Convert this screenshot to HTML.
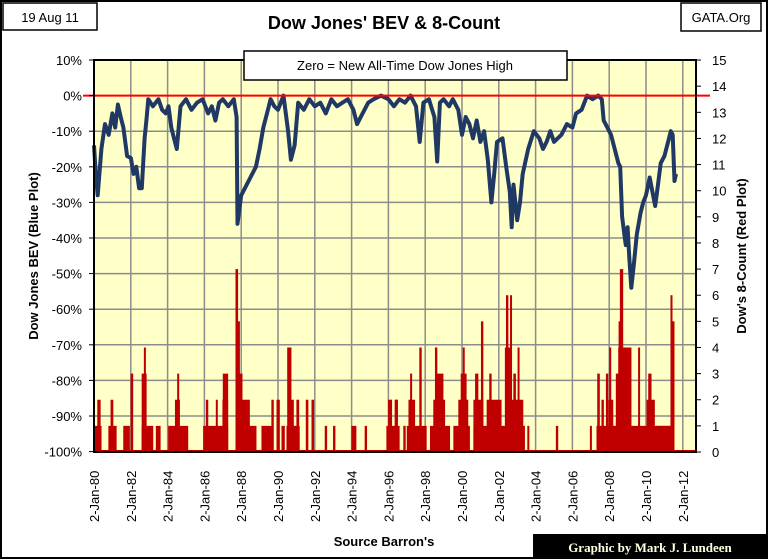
<!DOCTYPE html>
<html><head><meta charset="utf-8"><style>
html,body{margin:0;padding:0;background:#fff;}
svg{display:block;font-family:"Liberation Sans",sans-serif;}
</style></head><body>
<svg id="chart" width="768" height="559" viewBox="0 0 768 559">
<rect x="1" y="1" width="766" height="557" fill="#fff" stroke="#000" stroke-width="2"/>
<rect x="3" y="3" width="94" height="27" fill="#fff" stroke="#000" stroke-width="1.5"/>
<text x="50" y="22" font-size="13" text-anchor="middle">19 Aug 11</text>
<rect x="681" y="3" width="80" height="28" fill="#fff" stroke="#000" stroke-width="1.5"/>
<text x="721" y="22" font-size="13" text-anchor="middle">GATA.Org</text>
<text x="384" y="29" font-size="18" font-weight="bold" text-anchor="middle">Dow Jones' BEV &amp; 8-Count</text>
<rect x="94" y="60" width="602" height="392" fill="#ffffc8"/>
<g id="grid"></g>
<g id="bars"></g>
<path id="bevline" fill="none" stroke="#1f3864" stroke-width="4" stroke-linejoin="round"/>
<line x1="83" y1="95.6" x2="710" y2="95.6" stroke="#ff0000" stroke-width="2"/>
<rect x="94" y="60" width="602" height="392" fill="none" stroke="#000" stroke-width="2"/>
<g id="axes"></g>
<rect x="244" y="51" width="323" height="29" fill="#fff" stroke="#000" stroke-width="1.5"/>
<text x="405" y="70" font-size="13" text-anchor="middle">Zero = New All-Time Dow Jones High</text>
<text transform="translate(38,256) rotate(-90)" font-size="13" font-weight="bold" text-anchor="middle">Dow Jones BEV (Blue Plot)</text>
<text transform="translate(746,256) rotate(-90)" font-size="13" font-weight="bold" text-anchor="middle">Dow's 8-Count (Red Plot)</text>
<text x="384" y="546" font-size="13" font-weight="bold" text-anchor="middle">Source Barron's</text>
<rect x="533" y="534" width="235" height="25" fill="#000"/>
<text x="650" y="552" font-size="13" font-weight="bold" fill="#ffffe0" text-anchor="middle" font-family="Liberation Serif, serif">Graphic by Mark J. Lundeen</text>
</svg>
<script>
const bevDates=[1980.0,1980.1,1980.2,1980.4,1980.6,1980.8,1981.0,1981.15,1981.3,1981.45,1981.6,1981.8,1982.0,1982.15,1982.3,1982.45,1982.6,1982.75,1982.85,1982.95,1983.2,1983.5,1983.7,1983.9,1984.05,1984.2,1984.35,1984.5,1984.7,1985.0,1985.3,1985.6,1985.9,1986.2,1986.4,1986.6,1986.8,1987.0,1987.3,1987.6,1987.75,1987.8,1988.0,1988.2,1988.5,1988.8,1989.0,1989.2,1989.4,1989.6,1989.8,1990.0,1990.3,1990.55,1990.7,1990.9,1991.1,1991.4,1991.7,1992.0,1992.3,1992.6,1992.9,1993.2,1993.5,1993.8,1994.1,1994.3,1994.6,1994.9,1995.2,1995.6,1996.0,1996.3,1996.6,1996.9,1997.2,1997.5,1997.7,1997.9,1998.2,1998.5,1998.65,1998.8,1999.0,1999.3,1999.5,1999.8,2000.0,2000.2,2000.4,2000.6,2000.8,2001.0,2001.2,2001.4,2001.6,2001.75,2001.9,2002.2,2002.4,2002.6,2002.7,2002.8,2003.0,2003.15,2003.3,2003.6,2003.9,2004.2,2004.4,2004.6,2004.8,2005.0,2005.2,2005.4,2005.7,2006.0,2006.2,2006.5,2006.8,2007.1,2007.4,2007.6,2007.7,2007.9,2008.1,2008.3,2008.5,2008.6,2008.7,2008.85,2008.9,2009.0,2009.1,2009.2,2009.35,2009.5,2009.7,2009.85,2010.0,2010.2,2010.35,2010.5,2010.65,2010.8,2011.0,2011.2,2011.35,2011.45,2011.55,2011.63];
const bevValues=[-14,-22,-28,-15,-8,-11,-5,-9,-2.5,-6,-9,-17,-17.5,-22,-20,-26,-26,-12,-7,-1,-3,-1,-4,-5,-3,-9,-12,-15,-3,-1,-4,-2,-1,-5,-3,-7,-2,-1,-3,-1,-6,-36,-28,-26,-23,-20,-15,-9,-5,-1,-3,-4,0,-10,-18,-14,-2,-4,-1,-3,-2,-5,-1,-3,-2,-1,-4,-8,-5,-2,-1,0,-1,-3,-1,-2,0,-3,-13,-2,-1,-6,-18.5,-2,-1,-3,-1,-4,-11,-6,-8,-12,-7,-13,-10,-18,-30,-22,-13,-12,-20,-27,-37,-25,-35,-30,-22,-15,-10,-12,-15,-13,-10,-13,-12,-11,-8,-9,-5,-4,0,-1,0,-1,-7,-9,-11,-15,-19,-20,-34,-40,-42,-37,-46,-54,-47,-39,-33,-30,-28,-23,-27,-31,-25,-19,-17,-13,-10,-11,-24,-22];
const countStart=[1980.0,1980.18,1980.78,1980.9,1981.59,1981.99,1982.59,1982.59,1982.71,1983.36,1984.03,1984.4,1984.52,1985.93,1986.08,1986.62,1986.98,1987.0,1987.69,1987.8,1987.74,1987.74,1988.07,1989.1,1989.64,1989.92,1990.19,1990.46,1990.5,1990.64,1991.0,1991.51,1991.82,1992.54,1992.99,1993.99,1994.71,1995.89,1995.98,1996.34,1996.09,1996.36,1996.81,1997.0,1997.09,1997.18,1997.68,1998.26,1998.44,1998.62,1998.53,1999.53,1999.8,1999.93,2000.04,2000.62,2000.62,2000.71,2001.03,2001.34,2001.48,2002.7,2002.33,2002.39,2002.61,2002.79,2003.02,2003.55,2005.1,2006.95,2007.31,2007.35,2007.58,2007.82,2007.95,2008.0,2008.36,2008.49,2008.51,2008.58,2009.57,2010.03,2010.12,2010.57,2011.33,2011.44];
const countEnd=[1980.41,1980.36,1981.23,1981.05,1981.95,1982.13,1983.22,1982.86,1982.82,1983.62,1985.12,1984.67,1984.63,1987.29,1986.21,1986.71,1987.29,1987.29,1987.83,1987.93,1988.83,1988.07,1988.47,1989.74,1989.77,1990.1,1990.37,1991.18,1990.73,1990.86,1991.15,1991.65,1991.96,1992.67,1993.12,1994.26,1994.84,1996.61,1996.16,1996.52,1996.18,1996.49,1996.94,1998.08,1997.45,1997.27,1997.81,1999.35,1999.08,1998.99,1998.66,2000.43,2000.34,2000.25,2000.14,2003.42,2001.16,2000.89,2001.16,2002.15,2001.61,2003.33,2002.64,2002.52,2002.71,2002.93,2003.11,2003.66,2005.23,2007.06,2011.44,2007.49,2007.71,2007.95,2008.22,2008.11,2008.54,2009.21,2008.58,2008.76,2009.67,2010.48,2010.3,2011.44,2011.44,2011.51];
const countValues=[1,2,1,2,1,3,1,3,4,1,1,2,3,1,2,2,2,3,7,5,1,3,2,1,2,2,1,1,4,2,2,2,2,1,1,1,1,1,2,2,2,2,1,1,2,3,4,1,2,3,4,1,2,3,4,1,2,3,5,2,3,2,4,6,6,3,4,1,1,1,1,3,2,3,2,4,3,4,5,7,4,2,3,1,6,5];
const leftTicks=[10,0,-10,-20,-30,-40,-50,-60,-70,-80,-90,-100];
const rightTicks=[0,1,2,3,4,5,6,7,8,9,10,11,12,13,14,15];
const xTickYears=[1980,1982,1984,1986,1988,1990,1992,1994,1996,1998,2000,2002,2004,2006,2008,2010,2012];

const NS="http://www.w3.org/2000/svg";
const xS=y=>94+(y-1980)*18.4;
const yL=v=>95.6+(-v)*3.56;
const yR=v=>452-v*26.13;
function mk(tag,attrs,parent){const e=document.createElementNS(NS,tag);for(const k in attrs)e.setAttribute(k,attrs[k]);parent.appendChild(e);return e;}
const grid=document.getElementById('grid'),axes=document.getElementById('axes'),bars=document.getElementById('bars');
leftTicks.forEach(t=>{
  const y=yL(t);
  if(t>-100&&t<10){const g=mk('line',{x1:94,x2:696,y1:y,y2:y,stroke:'#8c8c8c','stroke-width':1.5},grid);
  
  }
  const tk=mk('line',{x1:89,x2:94,y1:y,y2:y,stroke:'#000'},axes);
  
  
  const tx=mk('text',{x:82,y:y+5,'font-size':13,'text-anchor':'end'},axes);tx.textContent=t+'%';
  
  
});
rightTicks.forEach(t=>{
  const y=yR(t);
  const tk=mk('line',{x1:696,x2:701,y1:y,y2:y,stroke:'#000'},axes);
  
  
  const tx=mk('text',{x:712,y:y+5,'font-size':13},axes);tx.textContent=t;
  
  
});
xTickYears.forEach(yr=>{
  const x=xS(yr);
  if(yr>1980){const g=mk('line',{x1:x,x2:x,y1:60,y2:452,stroke:'#8c8c8c','stroke-width':1.5},grid);
  
  }
  const tx=mk('text',{transform:`translate(${x+5},522) rotate(-90)`,'font-size':13},axes);
  tx.textContent='2-Jan-'+String(yr).slice(2);
  
  
});
countValues.forEach((v,i)=>{
  const x0=xS(countStart[i]),x1=xS(countEnd[i]);
  const r=mk('rect',{x:x0,y:yR(v),width:Math.max(2,x1-x0),height:yR(0)-yR(v),fill:'#c00000'},bars);
  
  
});
mk('line',{x1:94,x2:696,y1:451,y2:451,stroke:'#c00000','stroke-width':2},bars);
document.getElementById('bevline').setAttribute('d',bevDates.map((d,i)=>(i?'L':'M')+xS(d).toFixed(1)+','+yL(bevValues[i]).toFixed(1)).join(''));
</script>
</body></html>
